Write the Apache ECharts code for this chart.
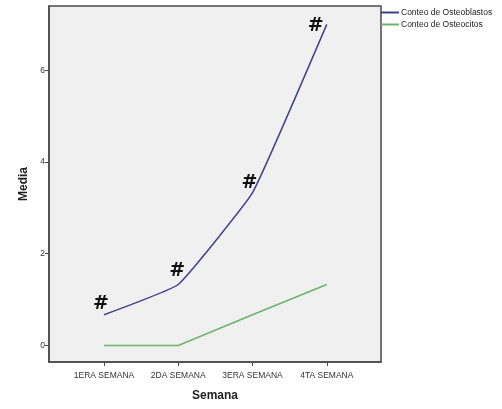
<!DOCTYPE html>
<html style="height: 100%; width: 100%">
<head>
  <meta charset="utf-8" />
</head>
<body style="height: 100%; width: 100%; margin: 0; background: #fff;">
  <div id="chart-panel" style="height: 409px; width: 502px;"></div>
  <script type="text/javascript" src="https://cdn.jsdelivr.net/npm/echarts@6/dist/echarts.min.js"></script>
  <script type="text/javascript">
    var semanas = ["1ERA SEMANA", "2DA SEMANA", "3ERA SEMANA", "4TA SEMANA"];
    var osteoblastos = [0.67, 1.33, 3.33, 7.0];
    var osteocitos = [0, 0, 0.67, 1.33];
    var yTicks = [0, 2, 4, 6];
    var marcas = ["#", "#", "#", "#"]; // marca de significancia sobre osteoblastos

    var dom = document.getElementById("chart-panel");
    var myChart = echarts.init(dom);

    // offsets del "#" respecto al punto
    var markOffsets = [[-3, 4], [-1, 1], [-3, 5], [-11, 16]];

    var option = {
      animation: false,
      textStyle: { fontFamily: "Liberation Sans" },
      grid: {
        left: 49,
        top: 6,
        right: 121,
        bottom: 47,
        show: true,
        backgroundColor: "#f0f0f0",
        borderColor: "#4a4a4a",
        borderWidth: 1.5,
      },
      legend: {
        orient: "vertical",
        left: 381,
        top: 8,
        padding: 0,
        itemWidth: 18,
        itemHeight: 2,
        itemGap: 3,
        icon: "rect",
        textStyle: { fontSize: 8.5, color: "#222", padding: [0, 0, 0, -3] },
        data: ["Conteo de Osteoblastos", "Conteo de Osteocitos"],
      },
      xAxis: {
        type: "value",
        min: -0.74,
        max: 3.73,
        name: "Semana",
        nameLocation: "middle",
        nameGap: 28,
        nameTextStyle: { fontSize: 12, fontWeight: "bold", color: "#222" },
        axisLine: { onZero: false, lineStyle: { color: "#4a4a4a", width: 1.5 } },
        splitLine: { show: false },
        axisTick: {
          show: true,
          length: 4,
          customValues: [0, 1, 2, 3],
          lineStyle: { color: "#4a4a4a" },
        },
        axisLabel: {
          customValues: [0, 1, 2, 3],
          fontSize: 8.5,
          color: "#333",
          margin: 9,
          formatter: function (v) {
            return semanas[Math.round(v)];
          },
        },
      },
      yAxis: {
        type: "value",
        min: -0.36,
        max: 7.4,
        name: "Media",
        nameLocation: "middle",
        nameGap: 19,
        nameTextStyle: { fontSize: 12, fontWeight: "bold", color: "#222" },
        axisLine: { show: true, onZero: false, lineStyle: { color: "#4a4a4a", width: 1.5 } },
        splitLine: { show: false },
        axisTick: {
          show: true,
          length: 4,
          customValues: yTicks,
          lineStyle: { color: "#4a4a4a" },
        },
        axisLabel: {
          customValues: yTicks,
          fontSize: 8.5,
          color: "#333",
          margin: 4,
        },
      },
      series: [
        {
          name: "Conteo de Osteoblastos",
          type: "line",
          smooth: 0.1,
          symbol: "circle",
          symbolSize: 0,
          showSymbol: true,
          color: "#40408f",
          lineStyle: { width: 1.5, color: "#40408f" },
          data: osteoblastos.map(function (v, i) {
            return {
              value: [i, v],
              label: {
                show: true,
                position: "top",
                offset: markOffsets[i],
                formatter: marcas[i],
                fontSize: 19,
                fontWeight: "bold",
                fontFamily: "DejaVu Sans",
                color: "#111",
              },
            };
          }),
        },
        {
          name: "Conteo de Osteocitos",
          type: "line",
          symbol: "none",
          color: "#6cb46c",
          lineStyle: { width: 1.5, color: "#6cb46c" },
          data: osteocitos.map(function (v, i) {
            return [i, v];
          }),
        },
      ],
    };

    myChart.setOption(option);
  </script>
</body>
</html>
